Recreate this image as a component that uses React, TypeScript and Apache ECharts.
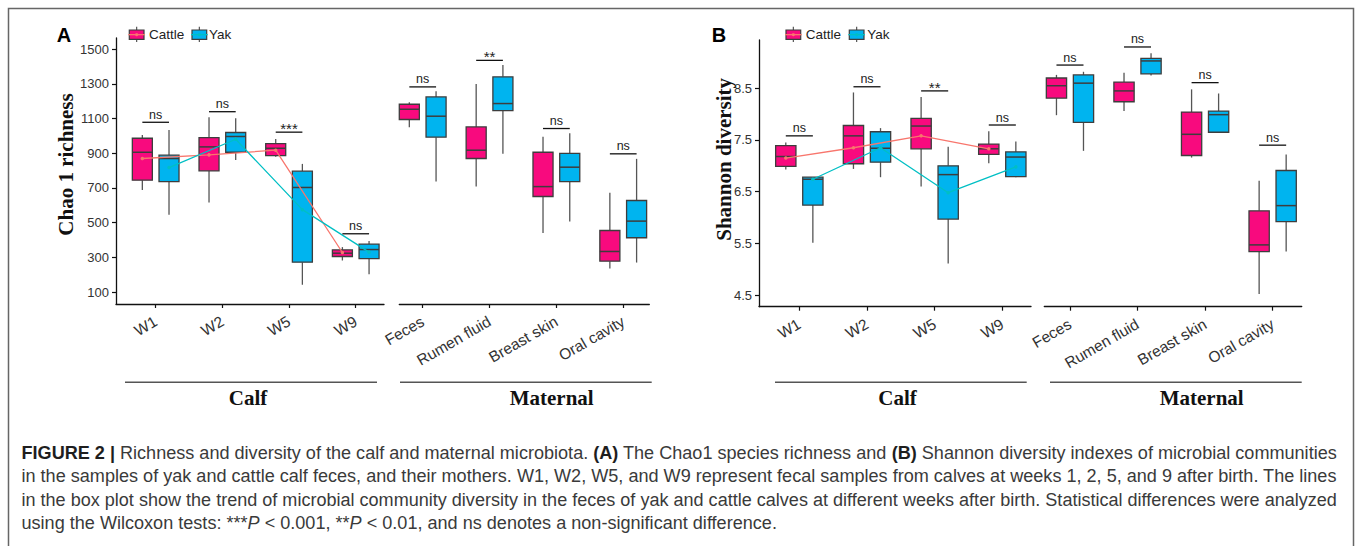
import React, { useEffect, useRef } from 'react';
import * as echarts from 'echarts';

// ---------- data ----------
const calfCategories = ['W1', 'W2', 'W5', 'W9'];
const maternalCategories = ['Feces', 'Rumen fluid', 'Breast skin', 'Oral cavity'];
const chaoTicks = [100, 300, 500, 700, 900, 1100, 1300, 1500];
const shannonTicks = [4.5, 5.5, 6.5, 7.5, 8.5];

// box rows: [min, Q1, median, Q3, max]
const chaoCalfCattle = [
  [689, 745, 906, 987, 1006],
  [616, 799, 937, 991, 1108],
  [880, 887, 929, 956, 983],
  [282, 305, 324, 343, 359],
];
const chaoCalfYak = [
  [545, 737, 870, 889, 1035],
  [862, 906, 997, 1020, 1102],
  [142, 272, 703, 797, 839],
  [203, 293, 345, 376, 395],
];
const chaoCalfCattleMean = [870, 891, 918, 328];
const chaoCalfYakMean = [818, 981, 575, 330];
const chaoCalfSig = ['ns', 'ns', '***', 'ns'];
const chaoCalfSigY = [1079, 1140, 1022, 436];

const chaoMatCattle = [
  [1050, 1095, 1154, 1183, 1194],
  [708, 870, 918, 1052, 1300],
  [440, 651, 708, 906, 995],
  [236, 278, 334, 455, 672],
];
const chaoMatYak = [
  [737, 993, 1114, 1225, 1258],
  [898, 1146, 1187, 1341, 1410],
  [507, 737, 820, 900, 1016],
  [270, 413, 509, 628, 868],
];
const chaoMatSig = ['ns', '**', 'ns', 'ns'];
const chaoMatSigY = [1283, 1436, 1043, 897];

const shanCalfCattle = [
  [6.93, 6.99, 7.18, 7.39, 7.45],
  [6.94, 7.04, 7.58, 7.78, 8.42],
  [6.6, 7.33, 7.77, 7.92, 8.33],
  [7.05, 7.22, 7.33, 7.42, 7.67],
];
const shanCalfYak = [
  [5.51, 6.24, 6.74, 6.78, 6.78],
  [6.78, 7.07, 7.34, 7.66, 7.73],
  [5.11, 5.97, 6.83, 7.0, 7.37],
  [6.78, 6.79, 7.17, 7.27, 7.47],
];
const shanCalfCattleMean = [7.15, 7.35, 7.58, 7.33];
const shanCalfYakMean = [6.74, 7.35, 6.48, 6.98];
const shanCalfSig = ['ns', 'ns', '**', 'ns'];
const shanCalfSigY = [7.58, 8.53, 8.45, 7.79];

const shanMatCattle = [
  [7.98, 8.31, 8.55, 8.7, 8.76],
  [8.06, 8.24, 8.45, 8.62, 8.8],
  [7.16, 7.2, 7.61, 8.04, 8.48],
  [4.52, 5.34, 5.47, 6.13, 6.71],
];
const shanMatYak = [
  [7.29, 7.84, 8.6, 8.76, 8.82],
  [8.75, 8.78, 9.03, 9.08, 9.18],
  [7.65, 7.65, 7.99, 8.06, 8.4],
  [5.34, 5.92, 6.23, 6.91, 7.22],
];
const shanMatSig = ['ns', 'ns', 'ns', 'ns'];
const shanMatSigY = [8.95, 9.3, 8.61, 7.4];

const CAPTION: [string, string][][] = [
  [
    ['b', 'FIGURE 2 |'],
    ['r', ' Richness and diversity of the calf and maternal microbiota. '],
    ['b', '(A)'],
    ['r', ' The Chao1 species richness and '],
    ['b', '(B)'],
    ['r', ' Shannon diversity indexes of microbial communities'],
  ],
  [['r', 'in the samples of yak and cattle calf feces, and their mothers. W1, W2, W5, and W9 represent fecal samples from calves at weeks 1, 2, 5, and 9 after birth. The lines']],
  [['r', 'in the box plot show the trend of microbial community diversity in the feces of yak and cattle calves at different weeks after birth. Statistical differences were analyzed']],
  [
    ['r', 'using the Wilcoxon tests: ***'],
    ['i', 'P'],
    ['r', ' < 0.001, **'],
    ['i', 'P'],
    ['r', ' < 0.01, and ns denotes a non-significant difference.'],
  ],
];

// ---------- styles ----------
const PINK = '#F80A7E';
const BLUE = '#00B4EF';
const LINE_RED = '#F8766D';
const LINE_CYAN = '#00BFC4';
const BORDER = '#3d3d3d';
const WHISKER = '#555555';
const AXIS = '#111111';
const LABEL = '#333333';
const SANS = 'Liberation Sans, Arial, Helvetica, sans-serif';
const SERIF = 'Liberation Serif, Times New Roman, serif';
const DODGE = 0.2;
const BOX_WIDTH = 0.3;

function boxRenderer(fill: string, dodge: number) {
  return (params: any, api: any) => {
    const i = api.value(0);
    const band = api.size([1, 0])[0];
    const cx = api.coord([i, api.value(3)])[0] + dodge * band;
    const w = BOX_WIDTH * band;
    const y = (k: number) => api.coord([i, api.value(k)])[1];
    const yMin = y(1), yQ1 = y(2), yMed = y(3), yQ3 = y(4), yMax = y(5);
    return {
      type: 'group',
      children: [
        { type: 'line', shape: { x1: cx, y1: yMax, x2: cx, y2: yQ3 }, style: { stroke: WHISKER, lineWidth: 1.3 } },
        { type: 'line', shape: { x1: cx, y1: yQ1, x2: cx, y2: yMin }, style: { stroke: WHISKER, lineWidth: 1.3 } },
        { type: 'rect', shape: { x: cx - w / 2, y: yQ3, width: w, height: yQ1 - yQ3 }, style: { fill, stroke: BORDER, lineWidth: 1.3 } },
        { type: 'line', shape: { x1: cx - w / 2, y1: yMed, x2: cx + w / 2, y2: yMed }, style: { stroke: BORDER, lineWidth: 1.5 } },
      ],
    };
  };
}

function bracketRenderer(labels: string[]) {
  return (params: any, api: any) => {
    const i = api.value(0);
    const band = api.size([1, 0])[0];
    const p = api.coord([i, api.value(1)]);
    const label = labels[params.dataIndex];
    const stars = label !== 'ns';
    return {
      type: 'group',
      children: [
        { type: 'line', shape: { x1: p[0] - DODGE * band, y1: p[1], x2: p[0] + DODGE * band, y2: p[1] }, style: { stroke: '#111', lineWidth: 1.3 } },
        {
          type: 'text',
          style: {
            text: label,
            x: p[0],
            y: stars ? p[1] - 3.5 : p[1] - 1,
            align: 'center',
            textAlign: 'center',
            verticalAlign: stars ? 'middle' : 'bottom',
            textVerticalAlign: stars ? 'middle' : 'bottom',
            fontSize: stars ? 15 : 12.5,
            fontFamily: SANS,
            fill: '#222',
          },
        },
      ],
    };
  };
}

function boxSeries(name: string, grid: number, rows: number[][], fill: string, dodge: number) {
  return {
    type: 'custom',
    name,
    xAxisIndex: grid,
    yAxisIndex: grid,
    clip: false,
    z: 2,
    encode: { x: 0, y: [1, 2, 3, 4, 5] },
    data: rows.map((r, i) => [i, ...r]),
    renderItem: boxRenderer(fill, dodge),
  };
}

function meanSeries(name: string, grid: number, means: number[], color: string, dodge: number) {
  return {
    type: 'line',
    name,
    xAxisIndex: grid,
    yAxisIndex: grid,
    z: 5,
    symbol: 'circle',
    symbolSize: 3.5,
    lineStyle: { color, width: 1.3 },
    itemStyle: { color },
    data: means.map((m, i) => [i + dodge, m]),
  };
}

function bracketSeries(grid: number, ys: number[], labels: string[]) {
  return {
    type: 'custom',
    name: 'significance',
    xAxisIndex: grid,
    yAxisIndex: grid,
    clip: false,
    z: 6,
    data: ys.map((v, i) => [i, v]),
    renderItem: bracketRenderer(labels),
  };
}

function xAxisDef(gridIndex: number, cats: string[], min: number, max: number) {
  const idx = cats.map((_, i) => i);
  return {
    type: 'value',
    gridIndex,
    min,
    max,
    axisLine: { show: true, onZero: false, lineStyle: { color: AXIS, width: 1.3 } },
    axisTick: { show: true, length: 4, customValues: idx, lineStyle: { color: AXIS, width: 1.2 } },
    axisLabel: {
      show: true,
      customValues: idx,
      formatter: (v: number) => cats[Math.round(v)] ?? '',
      rotate: 30,
      fontSize: 15.5,
      color: LABEL,
      margin: 16,
      fontFamily: SANS,
    },
    splitLine: { show: false },
  };
}

function yAxisDef(gridIndex: number, min: number, max: number, ticks: number[] | null, name: string, nameGap: number, shift: number, fmt: (v: number) => string) {
  if (!ticks) {
    return { type: 'value', gridIndex, min, max, show: false, splitLine: { show: false } };
  }
  return {
    type: 'value',
    gridIndex,
    min,
    max,
    axisLine: { show: true, onZero: false, lineStyle: { color: AXIS, width: 1.3 } },
    axisTick: { show: true, length: 4, customValues: ticks, lineStyle: { color: AXIS, width: 1.2 } },
    axisLabel: { show: true, customValues: ticks, formatter: fmt, fontSize: 13, color: LABEL, margin: 7, fontFamily: SANS },
    splitLine: { show: false },
    name,
    nameLocation: 'middle',
    nameGap,
    nameRotate: 90,
    nameMoveOverlap: false,
    nameTextStyle: { fontFamily: SERIF, fontWeight: 'bold', fontSize: 21, color: '#111', padding: [0, 0, 0, shift] },
  };
}

function legendKey(x: number, fill: string, line: string) {
  const y = 30, w = 14.7, h = 9.3, cx = x + w / 2;
  return [
    { type: 'line', shape: { x1: cx, y1: y - 3.3, x2: cx, y2: y }, style: { stroke: WHISKER, lineWidth: 1.2 } },
    { type: 'line', shape: { x1: cx, y1: y + h, x2: cx, y2: y + h + 2.7 }, style: { stroke: WHISKER, lineWidth: 1.2 } },
    { type: 'rect', shape: { x, y, width: w, height: h }, style: { fill, stroke: BORDER, lineWidth: 1.2 } },
    { type: 'line', shape: { x1: x - 1, y1: y + h / 2, x2: x + w + 1, y2: y + h / 2 }, style: { stroke: line, lineWidth: 1.3 } },
    { type: 'circle', shape: { cx, cy: y + h / 2, r: 1.5 }, style: { fill: line } },
  ];
}

function txt(text: string, x: number, y: number, o: any) {
  return {
    type: 'text',
    style: {
      text, x, y,
      align: o.align || 'left', textAlign: o.align || 'left',
      verticalAlign: 'middle', textVerticalAlign: 'middle',
      fontSize: o.size, fontFamily: o.family || SANS, fontWeight: o.weight || 'normal',
      fill: o.fill || '#222',
    },
  };
}

function captionElements() {
  const canvas = document.createElement('canvas');
  const ctx = canvas.getContext('2d') as CanvasRenderingContext2D;
  const base = 16;
  const left = 21.5;
  const right = 1338;
  const fontFor = (st: string, size: number) =>
    `${st === 'i' ? 'italic ' : ''}${st === 'b' ? 'bold ' : ''}${size}px "Liberation Sans"`;
  const widthAt = (line: [string, string][], size: number) =>
    line.reduce((s, [st, t]) => {
      ctx.font = fontFor(st, size);
      return s + ctx.measureText(t).width;
    }, 0);
  const fitted = CAPTION.slice(0, 3).map((line) => (base * (right - left)) / widthAt(line, base));
  const avg = fitted.reduce((a, b) => a + b, 0) / fitted.length;
  return CAPTION.map((line, k) => {
    const fs = k < 3 ? fitted[k] : avg;
    const fam = 'Liberation Sans, Arial, sans-serif';
    return {
      type: 'text',
      style: {
        text: line.map(([st, t]) => `{${st}|${t}}`).join(''),
        x: left,
        y: 452.5 + 23.6 * k,
        align: 'left', textAlign: 'left',
        verticalAlign: 'middle', textVerticalAlign: 'middle',
        fontSize: fs, fontFamily: fam, fill: '#3a3a3a',
        rich: {
          r: { fontSize: fs, fontFamily: fam, fill: '#3a3a3a' },
          b: { fontSize: fs, fontFamily: fam, fontWeight: 'bold', fill: '#1e1e1e' },
          i: { fontSize: fs, fontFamily: fam, fontStyle: 'italic', fill: '#3a3a3a' },
        },
      },
    };
  });
}

export default function App() {
  const ref = useRef<HTMLDivElement>(null);
  useEffect(() => {
    if (!ref.current) return;
    const chart = echarts.init(ref.current, undefined, { renderer: 'svg' });
    const graphics: any[] = [
      { type: 'rect', z: -10, shape: { x: 8.5, y: 8.5, width: 1345, height: 600 }, style: { fill: 'transparent', stroke: '#666', lineWidth: 1.5 } },
      txt('A', 64, 34.5, { size: 20, weight: 'bold', align: 'center', fill: '#000' }),
      txt('B', 719, 34.5, { size: 20, weight: 'bold', align: 'center', fill: '#000' }),
      ...legendKey(129.3, PINK, LINE_RED),
      txt('Cattle', 149, 34.8, { size: 13.5, fill: '#222' }),
      ...legendKey(192, BLUE, LINE_CYAN),
      txt('Yak', 209, 34.8, { size: 13.5, fill: '#222' }),
      ...legendKey(786, PINK, LINE_RED),
      txt('Cattle', 805.7, 34.8, { size: 13.5, fill: '#222' }),
      ...legendKey(849.3, BLUE, LINE_CYAN),
      txt('Yak', 867.3, 34.8, { size: 13.5, fill: '#222' }),
      { type: 'line', shape: { x1: 125, y1: 382.3, x2: 377, y2: 382.3 }, style: { stroke: '#555', lineWidth: 1.5 } },
      { type: 'line', shape: { x1: 400, y1: 382.3, x2: 651.7, y2: 382.3 }, style: { stroke: '#555', lineWidth: 1.5 } },
      { type: 'line', shape: { x1: 775, y1: 382.3, x2: 1026.7, y2: 382.3 }, style: { stroke: '#555', lineWidth: 1.5 } },
      { type: 'line', shape: { x1: 1050, y1: 382.3, x2: 1301.7, y2: 382.3 }, style: { stroke: '#555', lineWidth: 1.5 } },
      txt('Calf', 248, 397.5, { size: 21, family: SERIF, weight: 'bold', align: 'center', fill: '#111' }),
      txt('Maternal', 551.7, 397.5, { size: 21, family: SERIF, weight: 'bold', align: 'center', fill: '#111' }),
      txt('Calf', 897.5, 397.5, { size: 21, family: SERIF, weight: 'bold', align: 'center', fill: '#111' }),
      txt('Maternal', 1201.7, 397.5, { size: 21, family: SERIF, weight: 'bold', align: 'center', fill: '#111' }),
      ...captionElements(),
    ];

    const option: any = {
      animation: false,
      backgroundColor: '#ffffff',
      textStyle: { fontFamily: SANS },
      grid: [
        { left: 116, top: 38, width: 268, height: 266, outerBoundsMode: 'none', containLabel: false },
        { left: 399.3, top: 38, width: 250, height: 266, outerBoundsMode: 'none', containLabel: false },
        { left: 759, top: 40, width: 272, height: 266.7, outerBoundsMode: 'none', containLabel: false },
        { left: 1044.3, top: 40, width: 257.4, height: 266.7, outerBoundsMode: 'none', containLabel: false },
      ],
      xAxis: [
        xAxisDef(0, calfCategories, -0.595, 3.424),
        xAxisDef(1, maternalCategories, -0.35, 3.39),
        xAxisDef(2, calfCategories, -0.596, 3.424),
        xAxisDef(3, maternalCategories, -0.38, 3.43),
      ],
      yAxis: [
        yAxisDef(0, 31, 1565, chaoTicks, 'Chao 1 richness', 40, 13, (v) => String(v)),
        yAxisDef(1, 31, 1565, null, '', 0, 0, (v) => String(v)),
        yAxisDef(2, 4.274, 9.435, shannonTicks, 'Shannon diversity', 25, 28, (v) => v.toFixed(1)),
        yAxisDef(3, 4.274, 9.435, null, '', 0, 0, (v) => String(v)),
      ],
      series: [
        boxSeries('Cattle', 0, chaoCalfCattle, PINK, -DODGE),
        boxSeries('Yak', 0, chaoCalfYak, BLUE, DODGE),
        meanSeries('Cattle trend', 0, chaoCalfCattleMean, LINE_RED, -DODGE),
        meanSeries('Yak trend', 0, chaoCalfYakMean, LINE_CYAN, DODGE),
        bracketSeries(0, chaoCalfSigY, chaoCalfSig),
        boxSeries('Cattle', 1, chaoMatCattle, PINK, -DODGE),
        boxSeries('Yak', 1, chaoMatYak, BLUE, DODGE),
        bracketSeries(1, chaoMatSigY, chaoMatSig),
        boxSeries('Cattle', 2, shanCalfCattle, PINK, -DODGE),
        boxSeries('Yak', 2, shanCalfYak, BLUE, DODGE),
        meanSeries('Cattle trend', 2, shanCalfCattleMean, LINE_RED, -DODGE),
        meanSeries('Yak trend', 2, shanCalfYakMean, LINE_CYAN, DODGE),
        bracketSeries(2, shanCalfSigY, shanCalfSig),
        boxSeries('Cattle', 3, shanMatCattle, PINK, -DODGE),
        boxSeries('Yak', 3, shanMatYak, BLUE, DODGE),
        bracketSeries(3, shanMatSigY, shanMatSig),
      ],
      graphic: graphics,
    };
    chart.setOption(option);
    return () => chart.dispose();
  }, []);
  return (
    <div
      ref={ref}
      style={{ position: 'fixed', left: 0, top: 0, width: 1357, height: 546, background: '#fff' }}
    />
  );
}
